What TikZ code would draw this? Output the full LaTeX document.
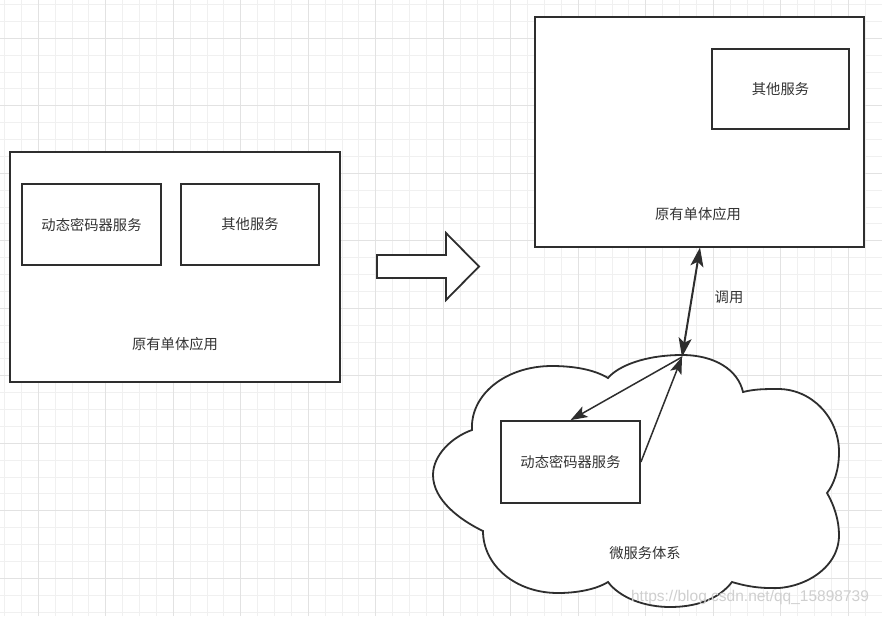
\documentclass[tikz,border=0pt]{standalone}
\usepackage{fontspec}
\setmainfont{Liberation Sans}
\newfontfamily\cjk{Noto Sans CJK SC}
\usetikzlibrary{arrows.meta}
\definecolor{gridminor}{HTML}{F0F0F0}
\definecolor{gridmajor}{HTML}{E2E2E2}
\definecolor{ink}{HTML}{2E2E2E}
\definecolor{txt}{HTML}{333333}
\definecolor{wm}{HTML}{CFCFCF}
\begin{document}
\begin{tikzpicture}[x=1pt,y=-1pt,
  box/.style={draw=ink,line width=1.8pt,fill=white,inner sep=0pt,
    font=\cjk\fontsize{14.3}{16}\selectfont,text=txt},
  lbl/.style={font=\cjk\fontsize{14.3}{16}\selectfont,text=txt,inner sep=0pt},
  conn/.style={draw=ink,line width=1.5pt,-{Stealth[length=17pt,width=12pt,inset=4pt]}},
  dbl/.style={draw=ink,line width=2pt,{Stealth[length=19pt,width=13pt,inset=4.5pt]}-{Stealth[length=19pt,width=13pt,inset=4.5pt]}},
  minorline/.style={draw=gridminor,line width=1pt},
  majorline/.style={draw=gridmajor,line width=1pt},
  ]
\useasboundingbox (0,0) rectangle (882,616);
\fill[white] (0,0) rectangle (882,616);
% grid
\foreach \i in {0,...,52}{
  \pgfmathsetmacro\xx{4.5+16.875*\i}
  \draw[minorline] (\xx,0) -- (\xx,616);
}
\foreach \i in {0,...,36}{
  \pgfmathsetmacro\yy{4.5+16.875*\i}
  \draw[minorline] (0,\yy) -- (882,\yy);
}
\foreach \i in {0,...,12}{
  \pgfmathsetmacro\xx{38.25+67.5*\i}
  \draw[majorline] (\xx,0) -- (\xx,616);
}
\foreach \i in {0,...,8}{
  \pgfmathsetmacro\yy{38.25+67.5*\i}
  \draw[majorline] (0,\yy) -- (882,\yy);
}
% left monolith
\node[box,minimum width=330pt,minimum height=230pt] (lb) at (175,267) {};
\node[box,minimum width=139pt,minimum height=81pt] (lb1) at (91.5,224.5) {动态密码器服务};
\node[box,minimum width=138pt,minimum height=81pt] (lb2) at (250,224.5) {其他服务};
\node[lbl] (lbl1) at (175,344) {原有单体应用};
% big arrow
\draw[ink,line width=1.8pt,fill=white,line join=miter]
  (377,255) -- (446,255) -- (446,233) -- (479,266.5) -- (446,300) -- (446,278) -- (377,278) -- cycle;
% right monolith
\node[box,minimum width=329pt,minimum height=230pt] (rb) at (699.5,132) {};
\node[box,minimum width=137pt,minimum height=80pt] (rb1) at (780.5,89) {其他服务};
\node[lbl] (lbl2) at (698,214) {原有单体应用};
% cloud
\draw[ink,line width=1.8pt,fill=white]
  (608,378) .. controls (618,366) and (645,355) .. (682,355)
  .. controls (715,355) and (738,370) .. (743,392)
  .. controls (755,389) and (765,389) .. (778,389)
  .. controls (812,389) and (839,418) .. (839,452)
  .. controls (839,470) and (834,484) .. (827,493)
  .. controls (834,505) and (839,520) .. (839,535)
  .. controls (839,570) and (800,590) .. (770,588)
  .. controls (755,588) and (742,585) .. (732,582)
  .. controls (718,600) and (695,607) .. (670,607)
  .. controls (645,607) and (620,598) .. (608,582)
  .. controls (595,590) and (575,593) .. (558,593)
  .. controls (515,593) and (483,565) .. (483,531)
  .. controls (460,520) and (433,500) .. (433,475)
  .. controls (433,455) and (452,437) .. (472,430)
  .. controls (470,395) and (505,366) .. (552,366)
  .. controls (575,366) and (595,370) .. cycle;
\node[box,minimum width=139pt,minimum height=82pt] (ms) at (570.5,462) {动态密码器服务};
\node[lbl] (cl) at (645,553) {微服务体系};
% connectors
\coordinate (rbp) at (700,247.5);
\coordinate (ctop) at (682,357);
\draw[dbl] (rbp) -- (ctop);
\node[lbl] (call) at (729,297) {调用};
\draw[conn] (ctop) -- (ms.north);
\draw[conn] (ms.east) -- (ctop);
% watermark
\node[font=\fontsize{15.5}{17}\selectfont,text=wm,inner sep=0pt] (wmk) at (750,597) {https://blog.csdn.net/qq\_15898739};
\end{tikzpicture}
\end{document}
